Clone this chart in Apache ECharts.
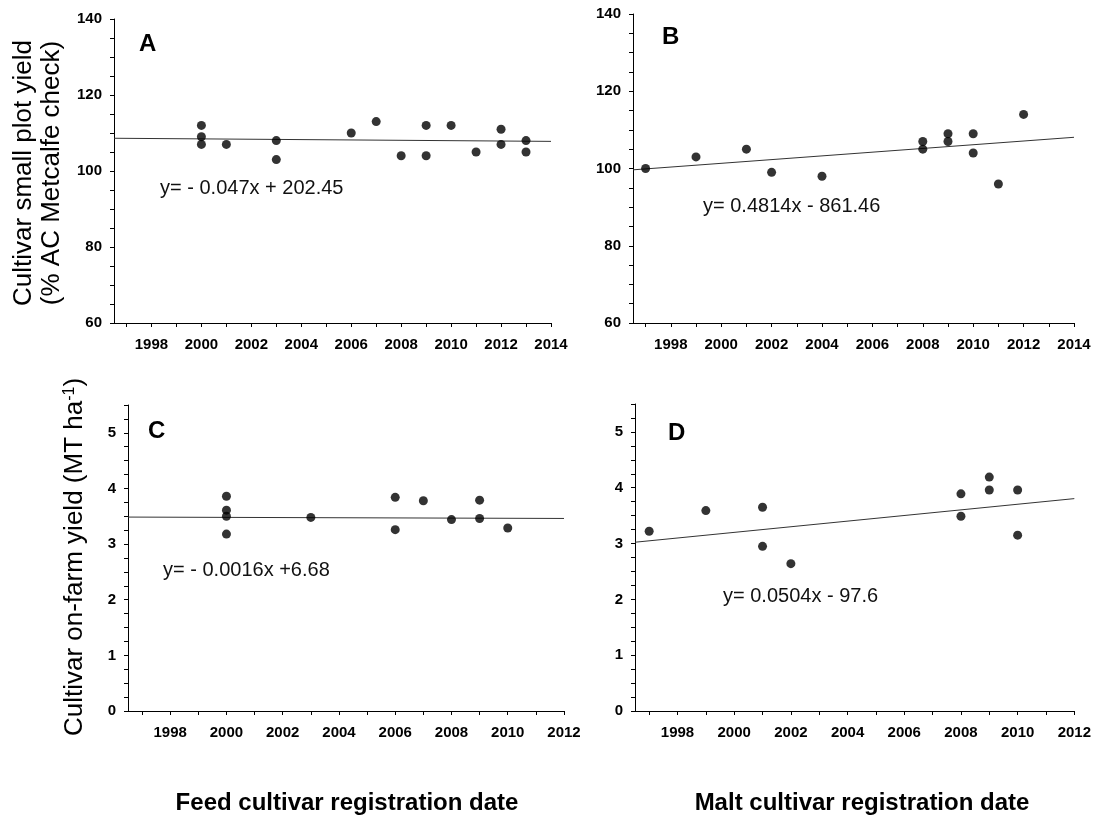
<!DOCTYPE html>
<html>
<head>
<meta charset="utf-8">
<script src="https://cdn.jsdelivr.net/npm/echarts@6/dist/echarts.min.js"></script>
<style>
  html, body { margin: 0; padding: 0; background: #fff; }
  #chart { width: 1094px; height: 818px; }
</style>
</head>
<body>
<div id="chart"></div>
<script>
// A: feed cultivars, small plot yield (% of AC Metcalfe)
const feedPlotYears = [2000, 2000, 2000, 2001, 2003, 2003, 2006, 2007, 2008, 2009, 2009, 2010, 2011, 2012, 2012, 2013, 2013];
const feedPlotYield = [112, 109, 107, 107, 108, 103, 110, 113, 104, 112, 104, 112, 105, 111, 107, 108, 105];
// B: malt cultivars, small plot yield
const maltPlotYears = [1997, 1999, 2001, 2002, 2004, 2008, 2008, 2009, 2009, 2010, 2010, 2011, 2012];
const maltPlotYield = [100, 103, 105, 99, 98, 107, 105, 109, 107, 109, 104, 96, 114];
// C: feed cultivars, on-farm yield (MT/ha)
const feedFarmYears = [2000, 2000, 2000, 2000, 2003, 2006, 2006, 2007, 2008, 2009, 2009, 2010];
const feedFarmYield = [3.86, 3.61, 3.50, 3.18, 3.48, 3.84, 3.26, 3.78, 3.44, 3.79, 3.46, 3.29];
// D: malt cultivars, on-farm yield (MT/ha)
const maltFarmYears = [1997, 1999, 2001, 2001, 2002, 2008, 2008, 2009, 2009, 2010, 2010];
const maltFarmYield = [3.22, 3.59, 3.65, 2.95, 2.64, 3.89, 3.49, 4.19, 3.96, 3.96, 3.15];

// linear fits: [slope, intercept]
const feedPlotFit = [-0.047, 202.45];
const maltPlotFit = [0.4814, -861.46];
const feedFarmFit = [-0.0016, 6.68];
const maltFarmFit = [0.0504, -97.6];

const fitLabels = ['y= - 0.047x + 202.45', 'y= 0.4814x - 861.46', 'y= - 0.0016x +6.68', 'y= 0.0504x - 97.6'];
const panelLetters = ['A', 'B', 'C', 'D'];

// axis ticks and labels
const yearLabelsTop = [1998, 2000, 2002, 2004, 2006, 2008, 2010, 2012, 2014];
const yearTicksTop = [1997, 1998, 1999, 2000, 2001, 2002, 2003, 2004, 2005, 2006, 2007, 2008, 2009, 2010, 2011, 2012, 2013, 2014];
const yearLabelsBottom = [1998, 2000, 2002, 2004, 2006, 2008, 2010, 2012];
const yearTicksBottom = [1997, 1998, 1999, 2000, 2001, 2002, 2003, 2004, 2005, 2006, 2007, 2008, 2009, 2010, 2011, 2012];
const plotYieldLabels = [60, 80, 100, 120, 140];
const plotYieldTicks = [60, 65, 70, 75, 80, 85, 90, 95, 100, 105, 110, 115, 120, 125, 130, 135, 140];
const farmYieldLabels = [0, 1, 2, 3, 4, 5];
const farmYieldTicks = [0, 0.25, 0.5, 0.75, 1, 1.25, 1.5, 1.75, 2, 2.25, 2.5, 2.75, 3, 3.25, 3.5, 3.75, 4, 4.25, 4.5, 4.75, 5, 5.25, 5.5];

const FONT = "'Liberation Sans', Arial, sans-serif";

const grids = [
  { left: 114, top: 19, width: 437, height: 304 },
  { left: 633, top: 14, width: 441, height: 309 },
  { left: 128, top: 405, width: 436, height: 306 },
  { left: 635, top: 404, width: 440, height: 307 }
];

const xRanges = [[1996.5, 2014], [1996.5, 2014], [1996.5, 2012], [1996.5, 2012]];
const yRanges = [[60, 140], [60, 140], [0, 5.5], [0, 5.5]];

function xAxisFor(i) {
  const top = i < 2;
  return {
    type: 'value', gridIndex: i, min: xRanges[i][0], max: xRanges[i][1],
    axisLine: { show: true, onZero: false, lineStyle: { color: '#000', width: 1 } },
    axisTick: { show: true, length: 4, lineStyle: { color: '#000' }, customValues: top ? yearTicksTop : yearTicksBottom },
    axisLabel: {
      customValues: top ? yearLabelsTop : yearLabelsBottom,
      formatter: v => String(v), margin: 14,
      color: '#000', fontFamily: FONT, fontWeight: 'bold', fontSize: 15
    },
    splitLine: { show: false }
  };
}

function yAxisFor(i) {
  const top = i < 2;
  return {
    type: 'value', gridIndex: i, min: yRanges[i][0], max: yRanges[i][1],
    axisLine: { show: true, onZero: false, lineStyle: { color: '#000', width: 1 } },
    axisTick: { show: true, length: 4, lineStyle: { color: '#000' }, customValues: top ? plotYieldTicks : farmYieldTicks },
    axisLabel: {
      customValues: top ? plotYieldLabels : farmYieldLabels,
      formatter: v => String(v), margin: 12,
      color: '#000', fontFamily: FONT, fontWeight: 'bold', fontSize: 15
    },
    splitLine: { show: false }
  };
}

const pointSets = [
  [feedPlotYears, feedPlotYield],
  [maltPlotYears, maltPlotYield],
  [feedFarmYears, feedFarmYield],
  [maltFarmYears, maltFarmYield]
];
const fits = [feedPlotFit, maltPlotFit, feedFarmFit, maltFarmFit];

const series = [];
pointSets.forEach(([xs, ys], i) => {
  const [a, b] = fits[i];
  const [x0, x1] = xRanges[i];
  series.push({
    type: 'line', xAxisIndex: i, yAxisIndex: i, showSymbol: false, silent: true, z: 1,
    lineStyle: { color: '#333', width: 1 },
    data: [[x0, a * x0 + b], [x1, a * x1 + b]]
  });
  series.push({
    type: 'scatter', xAxisIndex: i, yAxisIndex: i, symbol: 'circle', symbolSize: 9, z: 3,
    itemStyle: { color: '#000' },
    data: xs.map((x, k) => [x, ys[k]])
  });
});

// positions of panel letters and fit equations
const letterPos = [[139, 44], [662, 37], [148, 431], [668, 433]];
const fitPos = [[160, 188], [703, 206], [163, 570], [723, 596]];

const graphics = [];
panelLetters.forEach((t, i) => {
  graphics.push({ type: 'text', x: letterPos[i][0], y: letterPos[i][1],
    style: { text: t, font: `bold 24px ${FONT}`, fill: '#000', textAlign: 'left', textVerticalAlign: 'middle' } });
});
fitLabels.forEach((t, i) => {
  graphics.push({ type: 'text', x: fitPos[i][0], y: fitPos[i][1],
    style: { text: t, font: `20px ${FONT}`, fill: '#111', textAlign: 'left', textVerticalAlign: 'middle' } });
});
// axis titles
graphics.push({ type: 'text', x: 38, y: 173, rotation: Math.PI / 2,
  style: { text: 'Cultivar small plot yield\n(% AC Metcalfe check)', font: `26px ${FONT}`, lineHeight: 28,
    fill: '#000', textAlign: 'center', textVerticalAlign: 'middle' } });
graphics.push({ type: 'text', x: 75, y: 557, rotation: Math.PI / 2,
  style: { text: '{t|Cultivar on-farm yield (MT ha}{s|-1}{t|)}', fill: '#000', textAlign: 'center', textVerticalAlign: 'middle',
    rich: {
      t: { font: `26px ${FONT}`, fill: '#000' },
      s: { font: `16px ${FONT}`, fill: '#000', verticalAlign: 'top', padding: [0, 0, 11, 0] }
    } } });
graphics.push({ type: 'text', x: 347, y: 803,
  style: { text: 'Feed cultivar registration date', font: `bold 24px ${FONT}`, fill: '#000', textAlign: 'center', textVerticalAlign: 'middle' } });
graphics.push({ type: 'text', x: 862, y: 803,
  style: { text: 'Malt cultivar registration date', font: `bold 24px ${FONT}`, fill: '#000', textAlign: 'center', textVerticalAlign: 'middle' } });

const chart = echarts.init(document.getElementById('chart'), null, { renderer: 'canvas' });
chart.setOption({
  animation: false,
  backgroundColor: '#fff',
  grid: grids,
  xAxis: [0, 1, 2, 3].map(xAxisFor),
  yAxis: [0, 1, 2, 3].map(yAxisFor),
  series: series,
  graphic: graphics
});
</script>
</body>
</html>
